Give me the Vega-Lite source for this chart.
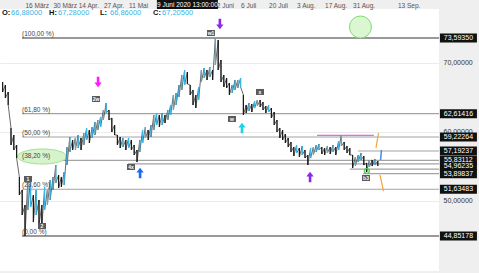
{
  "$schema": "https://vega.github.io/schema/vega-lite/v6.json",
  "width": 439,
  "height": 262,
  "autosize": {"type": "none"},
  "padding": {"top": 9, "left": 0, "right": 40, "bottom": 2},
  "config": {
    "background": "#efefef",
    "view": {"fill": "white", "stroke": null},
    "font": "Liberation Sans"
  },
  "datasets": {
    "price": [
      {"i":-8,"v":65.76,"h":67.21,"d":"d"},{"i":-7,"v":64.88,"h":66.77,"d":"d"},{"i":-6,"v":63.87,"h":65.76,"d":"d"},
      {"i":-5,"v":58.06,"h":60.53,"d":"d"},{"i":-4,"v":57.34,"h":59.51,"d":"d"},{"i":-3,"v":56.17,"h":58.06,"d":"d"},
      {"i":-2,"v":50.80,"h":53.42,"d":"d"},{"i":-1,"v":47.90,"h":51.53,"d":"d"},{"i":0,"v":44.85,"h":49.35,"d":"d"},
      {"i":1,"v":48.63,"h":52.98,"d":"u"},{"i":2,"v":49.06,"h":53.27,"d":"u"},{"i":3,"v":46.88,"h":50.80,"d":"d"},
      {"i":4,"v":47.90,"h":51.53,"d":"u"},{"i":5,"v":46.45,"h":50.08,"d":"d"},{"i":6,"v":46.01,"h":49.35,"d":"d"},
      {"i":7,"v":48.63,"h":51.96,"d":"u"},{"i":8,"v":49.35,"h":51.53,"d":"u"},{"i":9,"v":50.08,"h":52.98,"d":"u"},
      {"i":10,"v":51.53,"h":53.42,"d":"u"},{"i":11,"v":52.55,"h":55.16,"d":"u"},{"i":12,"v":51.82,"h":53.71,"d":"d"},
      {"i":13,"v":51.96,"h":53.42,"d":"d"},{"i":14,"v":52.25,"h":54.14,"d":"u"},{"i":15,"v":55.16,"h":57.77,"d":"u"},
      {"i":16,"v":57.05,"h":59.22,"d":"u"},{"i":17,"v":57.34,"h":58.79,"d":"d"},{"i":18,"v":57.34,"h":59.08,"d":"u"},
      {"i":19,"v":57.63,"h":59.51,"d":"u"},{"i":20,"v":57.34,"h":59.08,"d":"d"},{"i":21,"v":58.06,"h":59.80,"d":"u"},
      {"i":22,"v":58.79,"h":60.53,"d":"u"},{"i":23,"v":58.35,"h":60.24,"d":"d"},{"i":24,"v":59.08,"h":60.67,"d":"u"},
      {"i":25,"v":59.51,"h":61.40,"d":"u"},{"i":26,"v":60.24,"h":61.69,"d":"u"},{"i":27,"v":60.67,"h":62.13,"d":"u"},
      {"i":28,"v":61.69,"h":63.14,"d":"u"},{"i":29,"v":62.71,"h":64.16,"d":"u"},{"i":30,"v":61.69,"h":63.14,"d":"d"},
      {"i":31,"v":59.95,"h":61.98,"d":"d"},{"i":32,"v":59.51,"h":60.96,"d":"d"},{"i":33,"v":58.06,"h":59.51,"d":"d"},
      {"i":34,"v":57.63,"h":59.22,"d":"d"},{"i":35,"v":57.77,"h":59.08,"d":"u"},{"i":36,"v":57.34,"h":58.79,"d":"d"},
      {"i":37,"v":57.63,"h":59.08,"d":"u"},{"i":38,"v":57.34,"h":58.79,"d":"d"},{"i":39,"v":56.61,"h":58.06,"d":"d"},
      {"i":40,"v":55.59,"h":57.34,"d":"d"},{"i":41,"v":57.05,"h":58.79,"d":"u"},{"i":42,"v":58.35,"h":60.24,"d":"u"},
      {"i":43,"v":59.08,"h":60.67,"d":"u"},{"i":44,"v":58.79,"h":60.24,"d":"d"},{"i":45,"v":59.22,"h":60.96,"d":"u"},
      {"i":46,"v":60.24,"h":62.42,"d":"u"},{"i":47,"v":60.96,"h":62.71,"d":"u"},{"i":48,"v":60.67,"h":62.42,"d":"d"},
      {"i":49,"v":60.96,"h":62.71,"d":"u"},{"i":50,"v":61.25,"h":62.42,"d":"d"},{"i":51,"v":61.69,"h":63.14,"d":"u"},
      {"i":52,"v":62.42,"h":63.87,"d":"u"},{"i":53,"v":63.14,"h":65.32,"d":"u"},{"i":54,"v":63.87,"h":65.61,"d":"u"},
      {"i":55,"v":65.03,"h":66.77,"d":"u"},{"i":56,"v":66.05,"h":68.22,"d":"u"},{"i":57,"v":66.77,"h":68.95,"d":"u"},
      {"i":58,"v":66.92,"h":68.66,"d":"d"},{"i":59,"v":65.32,"h":66.77,"d":"d"},{"i":60,"v":63.87,"h":66.05,"d":"d"},
      {"i":61,"v":63.43,"h":65.32,"d":"d"},{"i":62,"v":64.59,"h":66.48,"d":"u"},{"i":63,"v":67.21,"h":68.95,"d":"u"},
      {"i":64,"v":67.79,"h":69.24,"d":"u"},{"i":65,"v":67.50,"h":68.95,"d":"d"},{"i":66,"v":67.93,"h":69.38,"d":"u"},
      {"i":67,"v":67.50,"h":68.95,"d":"d"},{"i":68,"v":69.67,"h":73.59,"d":"u"},{"i":69,"v":68.95,"h":73.30,"d":"d"},
      {"i":70,"v":67.21,"h":70.40,"d":"d"},{"i":71,"v":66.48,"h":68.22,"d":"d"},{"i":72,"v":66.34,"h":67.79,"d":"d"},
      {"i":73,"v":65.32,"h":67.06,"d":"d"},{"i":74,"v":65.61,"h":66.77,"d":"u"},{"i":75,"v":66.05,"h":67.50,"d":"u"},
      {"i":76,"v":66.34,"h":67.50,"d":"u"},{"i":77,"v":66.48,"h":67.79,"d":"u"},{"i":78,"v":62.42,"h":65.32,"d":"d"},
      {"i":79,"v":62.71,"h":63.87,"d":"d"},{"i":80,"v":63.00,"h":64.16,"d":"u"},{"i":81,"v":62.85,"h":64.01,"d":"d"},
      {"i":82,"v":63.43,"h":64.45,"d":"u"},{"i":83,"v":63.72,"h":64.59,"d":"u"},{"i":84,"v":63.58,"h":64.59,"d":"d"},
      {"i":85,"v":63.14,"h":64.30,"d":"d"},{"i":86,"v":62.71,"h":63.72,"d":"d"},{"i":87,"v":62.85,"h":63.87,"d":"u"},
      {"i":88,"v":61.98,"h":63.43,"d":"d"},{"i":89,"v":60.96,"h":62.85,"d":"d"},{"i":90,"v":59.95,"h":61.69,"d":"d"},
      {"i":91,"v":59.08,"h":60.53,"d":"d"},{"i":92,"v":58.79,"h":60.24,"d":"d"},{"i":93,"v":58.35,"h":59.66,"d":"d"},
      {"i":94,"v":57.77,"h":59.08,"d":"d"},{"i":95,"v":57.05,"h":58.50,"d":"d"},{"i":96,"v":56.46,"h":57.77,"d":"d"},
      {"i":97,"v":56.90,"h":58.06,"d":"u"},{"i":98,"v":56.32,"h":57.63,"d":"d"},{"i":99,"v":56.61,"h":57.92,"d":"u"},
      {"i":100,"v":56.17,"h":57.34,"d":"d"},{"i":101,"v":55.16,"h":56.61,"d":"d"},{"i":102,"v":56.17,"h":57.63,"d":"u"},
      {"i":103,"v":56.61,"h":57.77,"d":"u"},{"i":104,"v":57.05,"h":58.06,"d":"u"},{"i":105,"v":57.34,"h":58.21,"d":"u"},
      {"i":106,"v":56.75,"h":57.77,"d":"d"},{"i":107,"v":56.61,"h":57.63,"d":"d"},{"i":108,"v":56.90,"h":57.92,"d":"u"},
      {"i":109,"v":56.75,"h":57.77,"d":"d"},{"i":110,"v":57.05,"h":58.06,"d":"u"},{"i":111,"v":56.61,"h":57.77,"d":"d"},
      {"i":112,"v":57.34,"h":58.64,"d":"u"},{"i":113,"v":57.92,"h":59.51,"d":"u"},{"i":114,"v":57.34,"h":58.50,"d":"d"},
      {"i":115,"v":56.90,"h":57.92,"d":"d"},{"i":116,"v":56.61,"h":57.63,"d":"d"},{"i":117,"v":54.72,"h":56.61,"d":"d"},
      {"i":118,"v":55.01,"h":56.32,"d":"u"},{"i":119,"v":55.59,"h":56.61,"d":"u"},{"i":120,"v":55.88,"h":56.90,"d":"u"},
      {"i":121,"v":55.16,"h":56.46,"d":"d"},{"i":122,"v":54.14,"h":55.45,"d":"d"},{"i":123,"v":54.87,"h":55.88,"d":"u"},
      {"i":124,"v":55.01,"h":55.88,"d":"d"},{"i":125,"v":55.16,"h":56.03,"d":"u"},{"i":126,"v":55.01,"h":55.74,"d":"d"}
    ],
    "strong": [
      {"i":-1.07,"v":73.5935},{"i":-1.07,"v":44.85178}
    ],
    "levels": [
      {"i":-1.07,"v":62.61416},{"i":-1.07,"v":59.22264},{"i":-1.07,"v":55.83112},{"i":-1.07,"v":51.63483},
      {"i":118.9,"v":57.19237},{"i":36.8,"v":55.33},{"i":116,"v":54.55},{"i":120.7,"v":53.89837}
    ],
    "fiblabels": [
      {"i":-1.07,"v":73.5935,"t":"(100,00 %)"},{"i":-1.07,"v":62.61416,"t":"(61,80 %)"},
      {"i":-1.07,"v":59.22264,"t":"(50,00 %)"},{"i":-1.07,"v":55.83112,"t":"(38,20 %)"},
      {"i":-1.07,"v":51.63483,"t":"(23,60 %)"},{"i":-1.07,"v":44.85178,"t":"(0,00 %)"}
    ],
    "rightlabels": [
      {"i":154.8,"v":73.5935,"t":"73,59350"},{"i":154.8,"v":62.61416,"t":"62,61416"},{"i":154.8,"v":59.22264,"t":"59,22264"},
      {"i":154.8,"v":57.19237,"t":"57,19237"},{"i":154.8,"v":55.83112,"t":"55,83112"},{"i":154.8,"v":54.96,"t":"54,96235"},
      {"i":154.8,"v":53.89837,"t":"53,89837"},{"i":154.8,"v":51.63483,"t":"51,63483"},{"i":154.8,"v":44.85178,"t":"44,85178"}
    ],
    "waves": [
      {"i":66.43,"v":74.32,"t":"w1"},{"i":25.36,"v":64.74,"t":"2w"},{"i":37.86,"v":54.87,"t":"4x"},
      {"i":83.93,"v":65.76,"t":"x"},{"i":73.93,"v":61.84,"t":"w"},{"i":121.79,"v":53.27,"t":"b3"},
      {"i":1.07,"v":53.13,"t":"1"},{"i":6.07,"v":46.3,"t":"2"}
    ],
    "arrows": [
      {"i":26.1,"v":67.21,"dir":"down","n":"magenta"},{"i":69.6,"v":75.63,"dir":"down","n":"purple"},
      {"i":77.5,"v":60.53,"dir":"up","n":"cyan"},{"i":41.1,"v":53.99,"dir":"up","n":"blue"},
      {"i":101.8,"v":53.42,"dir":"up","n":"purple"}
    ],
    "orange": [
      {"i":125.36,"v":57.63,"s":"a"},{"i":126.25,"v":59.8,"s":"a"},
      {"i":126.79,"v":53.71,"s":"b"},{"i":128.04,"v":51.38,"s":"b"}
    ],
    "blue": [{"i":127.0,"v":55.88},{"i":127.3,"v":57.34}],
    "ohlcKeys": [
      {"i":-8.21,"v":77.15,"t":"O:"},{"i":8.57,"v":77.15,"t":"H:"},{"i":26.79,"v":77.15,"t":"L:"},{"i":45.71,"v":77.15,"t":"C:"}
    ],
    "ohlcVals": [
      {"i":-5.0,"v":77.15,"t":"66,88000"},{"i":11.79,"v":77.15,"t":"67,28000"},{"i":30.36,"v":77.15,"t":"66,86000"},{"i":48.93,"v":77.15,"t":"67,20500"}
    ]
  },
  "encoding": {
    "x": {
      "field": "i", "type": "quantitative", "title": null,
      "scale": {"domain": [-8.93, 147.86], "nice": false, "zero": false},
      "axis": {
        "orient": "top",
        "values": [0,10,19,28,37,67,77,87,97,107,117,133],
        "labelExpr": "['16 März','30 März','14 Apr.','27 Apr.','11 Mai','22 Juni','6 Juli','20 Juli','3 Aug.','17 Aug.','31 Aug.','13 Sep.'][indexof([0,10,19,28,37,67,77,87,97,107,117,133], datum.value)]",
        "labelAlign": "left", "labelBaseline": "bottom", "labelPadding": 1, "labelFontSize": 6.5, "labelColor": "#555555",
        "labelOverlap": false, "labelFlush": false, "labelBound": false,
        "ticks": false, "domain": false, "grid": false
      }
    },
    "y": {
      "field": "v", "type": "quantitative", "title": null,
      "scale": {"domain": [39.771, 77.803], "nice": false, "zero": false},
      "axis": {
        "orient": "right", "values": [50, 60, 70],
        "labelExpr": "replace(format(datum.value, '.5f'), '.', ',')",
        "labelFontSize": 7, "labelColor": "#333333", "labelPadding": 4,
        "ticks": false, "domain": false, "grid": true, "gridColor": "#ebebeb"
      }
    }
  },
  "layer": [
    {
      "data": {"values": [{"i":0},{"i":10},{"i":19},{"i":28},{"i":37},{"i":47},{"i":57},{"i":67},{"i":77},{"i":87},{"i":97},{"i":107},{"i":117},{"i":133}]},
      "mark": {"type": "rule", "color": "#ebebeb", "strokeWidth": 1},
      "encoding": {"y": {"datum": 77.803}, "y2": {"datum": 39.771}}
    },
    {
      "data": {"name": "strong"},
      "mark": {"type": "rule", "color": "#777777", "strokeWidth": 1.6},
      "encoding": {"x2": {"datum": 147.86}}
    },
    {
      "data": {"name": "levels"},
      "mark": {"type": "rule", "color": "#a3a3a3", "strokeWidth": 1.2},
      "encoding": {"x2": {"datum": 147.86}}
    },
    {
      "data": {"values": [{"i": 104.3, "v": 59.47}]},
      "mark": {"type": "rule", "color": "#e040e0", "strokeWidth": 1},
      "encoding": {"x2": {"datum": 124.6}}
    },
    {
      "data": {"values": [{"i": 6.1, "v": 56.39}]},
      "mark": {"type": "point", "filled": true, "fill": "#d6f3cc", "stroke": "#9fe08f", "strokeWidth": 1, "opacity": 1, "size": 2401,
        "shape": "M1,0C1,0.169,0.552,0.306,0,0.306C-0.552,0.306,-1,0.169,-1,0C-1,-0.169,-0.552,-0.306,0,-0.306C0.552,-0.306,1,-0.169,1,0Z"}
    },
    {
      "data": {"values": [{"i": 119.8, "v": 75.19}]},
      "mark": {"type": "point", "shape": "circle", "filled": true, "fill": "#dbf7d2", "stroke": "#80dc6e", "strokeWidth": 1, "opacity": 1, "size": 484}
    },
    {
      "data": {"name": "price"},
      "transform": [{"fold": ["h", "v"], "as": ["key", "val"]}],
      "mark": {"type": "line", "color": "#2a2a2a", "strokeWidth": 0.7},
      "encoding": {
        "y": {"field": "val", "type": "quantitative"},
        "order": [{"field": "i", "type": "quantitative"}, {"field": "key", "type": "nominal"}]
      }
    },
    {
      "data": {"name": "price"},
      "mark": {"type": "rule", "strokeWidth": 1.2},
      "encoding": {
        "y2": {"field": "h"},
        "color": {"field": "d", "type": "nominal", "scale": {"domain": ["u", "d"], "range": ["#3cb4e4", "#1b1b1b"]}, "legend": null}
      }
    },
    {
      "data": {"name": "orange"},
      "mark": {"type": "line", "color": "#f5a633", "strokeWidth": 1.2},
      "encoding": {"detail": {"field": "s"}}
    },
    {
      "data": {"name": "blue"},
      "mark": {"type": "line", "color": "#4a8ae8", "strokeWidth": 1.5},
      "encoding": {}
    },
    {
      "data": {"values": [{"i": 122.1, "v": 54.29}]},
      "mark": {"type": "point", "shape": "circle", "filled": false, "stroke": "#4fd04f", "strokeWidth": 1.3, "opacity": 1, "size": 24}
    },
    {
      "data": {"name": "fiblabels"},
      "mark": {"type": "text", "align": "left", "baseline": "bottom", "dy": -1, "fontSize": 6.5, "color": "#444444"},
      "encoding": {"text": {"field": "t"}}
    },
    {
      "data": {"name": "arrows"},
      "mark": {"type": "point", "filled": true, "opacity": 1, "size": 110, "strokeWidth": 0},
      "encoding": {
        "shape": {"field": "dir", "type": "nominal", "scale": {"domain": ["up", "down"], "range": ["M0,-1L0.7,-0.1L0.25,-0.1L0.25,1L-0.25,1L-0.25,-0.1L-0.7,-0.1Z", "M0,1L0.7,0.1L0.25,0.1L0.25,-1L-0.25,-1L-0.25,0.1L-0.7,0.1Z"]}, "legend": null},
        "fill": {"field": "n", "type": "nominal", "scale": {"domain": ["magenta", "purple", "cyan", "blue"], "range": ["#ff1aff", "#8a2be2", "#19d3e6", "#1a6cf0"]}, "legend": null}
      }
    },
    {
      "data": {"name": "waves"},
      "mark": {"type": "point", "filled": true, "fill": "#5a5a5a", "opacity": 1, "size": 64, "strokeWidth": 0, "shape": "M-1,-0.75L1,-0.75L1,0.75L-1,0.75Z"}
    },
    {
      "data": {"name": "waves"},
      "mark": {"type": "text", "fontSize": 5, "fontWeight": "bold", "color": "white", "baseline": "middle"},
      "encoding": {"text": {"field": "t"}}
    },
    {
      "data": {"name": "rightlabels"},
      "mark": {"type": "point", "filled": true, "fill": "#111111", "opacity": 1, "size": 1369, "strokeWidth": 0, "shape": "M-1,-0.243L1,-0.243L1,0.243L-1,0.243Z"}
    },
    {
      "data": {"name": "rightlabels"},
      "mark": {"type": "text", "fontSize": 7, "color": "white", "baseline": "middle"},
      "encoding": {"text": {"field": "t"}}
    },
    {
      "data": {"values": [{"i": 58, "v": 78.456, "t": "9 Juni 2020 13:00:00"}]},
      "mark": {"type": "point", "filled": true, "fill": "#111111", "opacity": 1, "size": 3721, "strokeWidth": 0, "shape": "M-1,-0.1475L1,-0.1475L1,0.1475L-1,0.1475Z"}
    },
    {
      "data": {"values": [{"i": 58, "v": 78.456, "t": "9 Juni 2020 13:00:00"}]},
      "mark": {"type": "text", "fontSize": 6.5, "color": "white", "baseline": "middle"},
      "encoding": {"text": {"field": "t"}}
    },
    {
      "data": {"name": "ohlcKeys"},
      "mark": {"type": "text", "align": "left", "baseline": "middle", "fontSize": 7.5, "fontWeight": "bold", "color": "#111111"},
      "encoding": {"text": {"field": "t"}}
    },
    {
      "data": {"name": "ohlcVals"},
      "mark": {"type": "text", "align": "left", "baseline": "middle", "fontSize": 7.5, "color": "#3cb4e4"},
      "encoding": {"text": {"field": "t"}}
    }
  ]
}
